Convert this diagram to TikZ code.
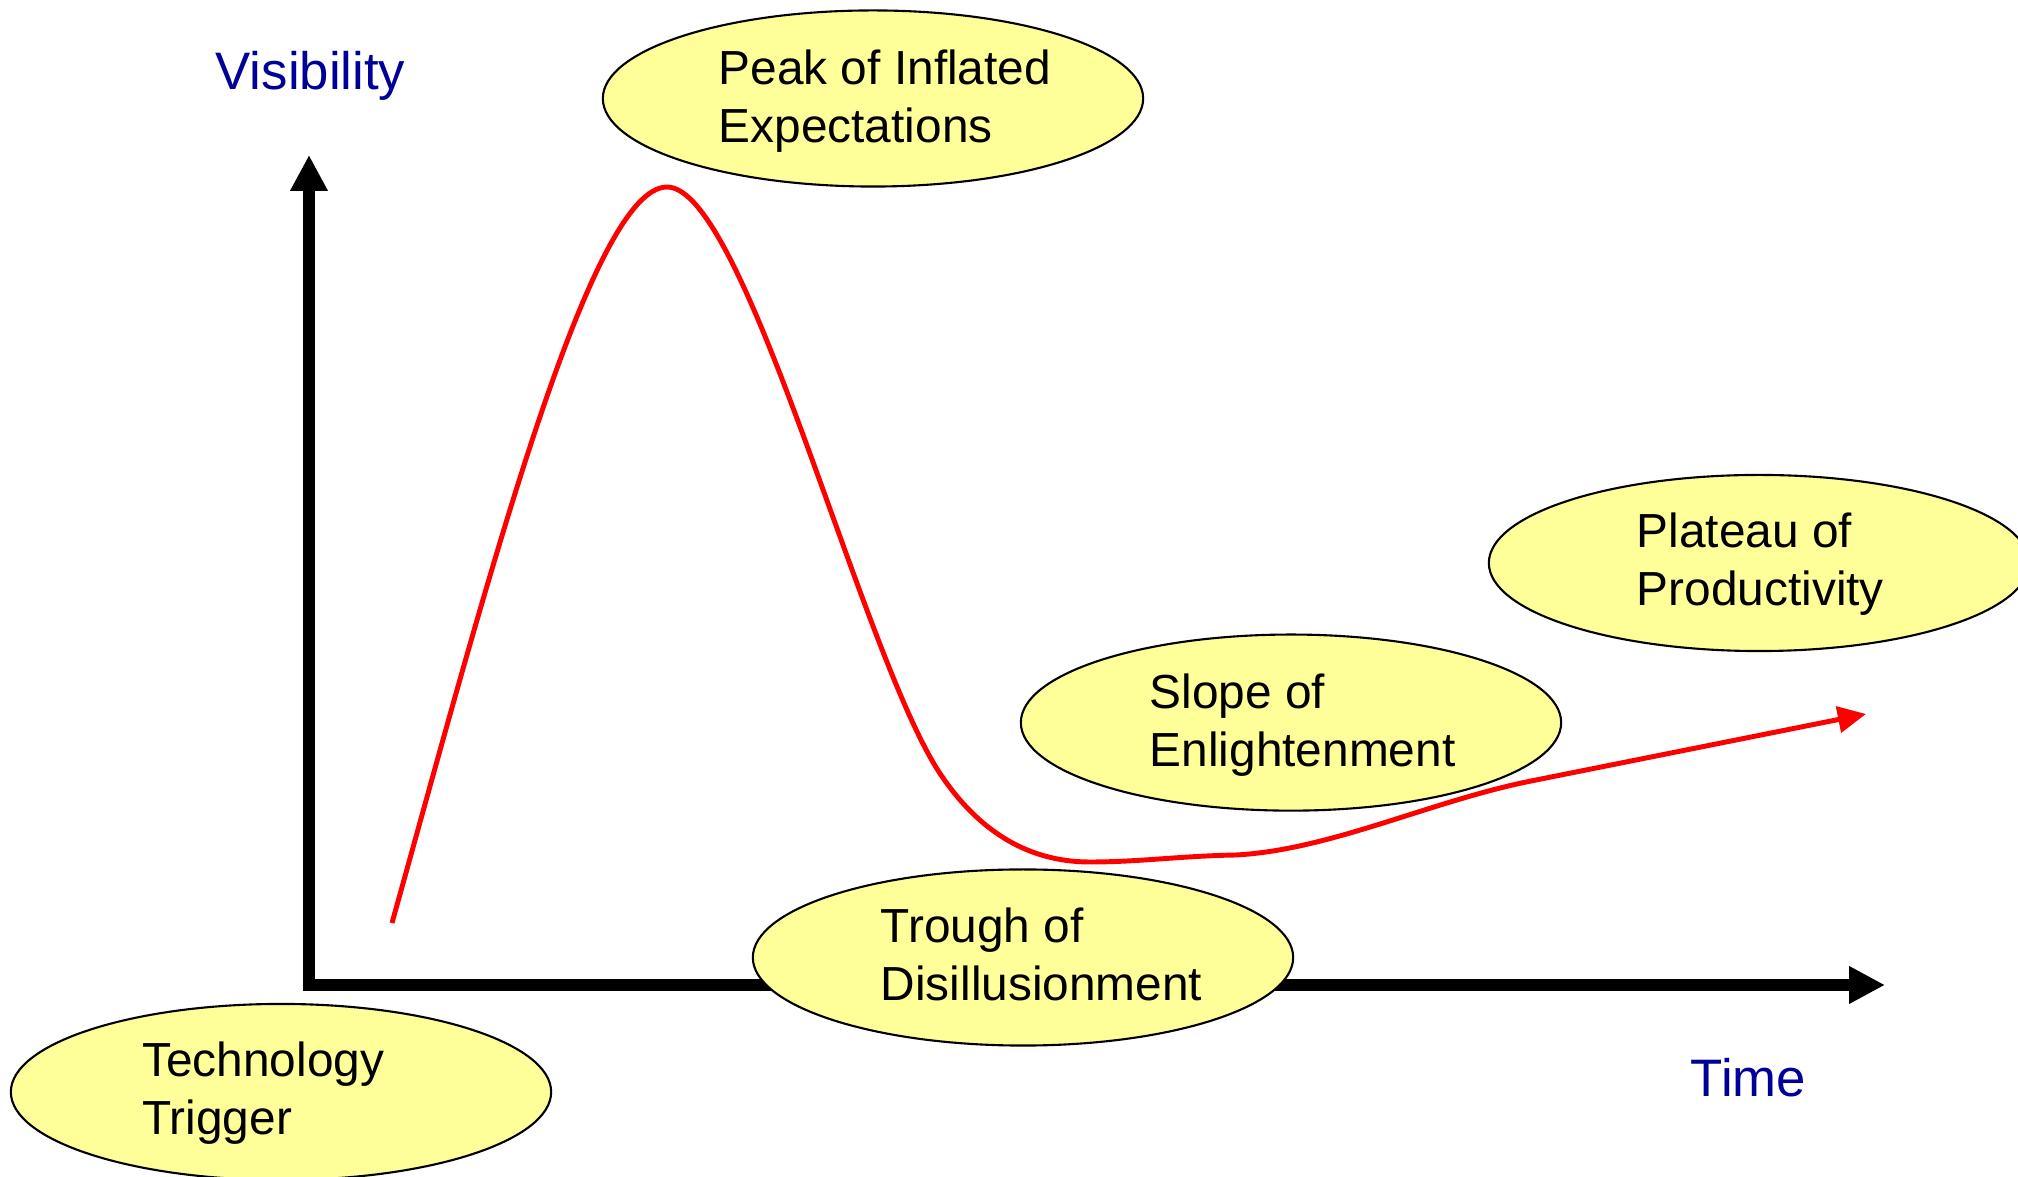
\documentclass[tikz,border=0pt]{standalone}
\usepackage{fontspec}
\setmainfont{Liberation Sans}
\usetikzlibrary{shapes.geometric,arrows.meta}
\definecolor{phase}{HTML}{FFFF99}
\definecolor{axislabel}{HTML}{000099}
\begin{document}
\begin{tikzpicture}[x=0.01cm,y=-0.01cm,
  phasebox/.style={ellipse,draw=black,line width=0.6pt,fill=phase,minimum width=5.4cm,minimum height=1.76cm,inner sep=0pt},
  phasetext/.style={anchor=west,align=left,inner sep=0pt,font=\fontsize{13.6}{16.5}\selectfont},
  axislbl/.style={anchor=base west,inner sep=0pt,text=axislabel,font=\fontsize{15}{18}\selectfont},
  axisline/.style={line width=3.4pt,-{Triangle[length=10.2pt,width=10pt]}},
  hype/.style={draw=red,line width=1.4pt,-{Triangle[length=8pt,width=7.4pt]}}]
\useasboundingbox (0,0) rectangle (2018,1177);
\clip (0,0) rectangle (2018,1177);
% axes
\coordinate (corner) at (309,991);
\coordinate (xstart) at (303,985);
\coordinate (ytip) at (309,155);
\coordinate (xtip) at (1885,985);
\draw[axisline] (corner) -- (ytip);
\draw[axisline] (xstart) -- (xtip);
\node[axislbl] (vis) at (215,90) {Visibility};
\node[axislbl] (time) at (1690,1097) {Time};
% curve
\coordinate (cstart) at (392,923);
\coordinate (cpeak) at (667,187);
\coordinate (cdown) at (939,772);
\coordinate (ctrough) at (1090,862);
\coordinate (cflat) at (1236,855);
\coordinate (cslope) at (1531,781);
\coordinate (cend) at (1866,714);
\draw[hype] (cstart) .. controls (485,590) and (590,187) .. (cpeak)
  .. controls (745,187) and (860,650) .. (cdown)
  .. controls (985,842) and (1040,862) .. (ctrough)
  .. controls (1140,862) and (1180,856) .. (cflat)
  .. controls (1330,850) and (1431,801) .. (cslope)
  -- (cend);
% phases
\node[phasebox] (peak) at (873,98.5) {};
\node[phasetext] (peakT) at (718,101) {Peak of Inflated\\Expectations};
\node[phasebox] (plateau) at (1759,563) {};
\node[phasetext] (plateauT) at (1636,564) {Plateau of\\Productivity};
\node[phasebox] (slope) at (1291,722.6) {};
\node[phasetext] (slopeT) at (1149,725) {Slope of\\Enlightenment};
\node[phasebox] (trough) at (1023,957.5) {};
\node[phasetext] (troughT) at (880,954) {Trough of\\Disillusionment};
\node[phasebox] (tech) at (281,1092) {};
\node[phasetext] (techT) at (141.6,1093) {Technology\\Trigger};
\end{tikzpicture}
\end{document}
